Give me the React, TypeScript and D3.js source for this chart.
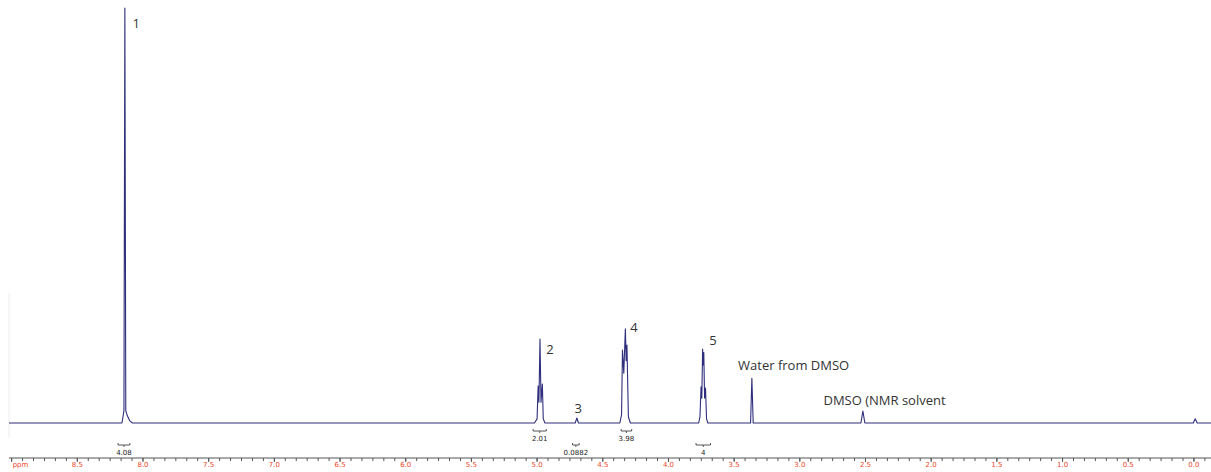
import React from "react";
import * as d3 from "d3";

const width = 1211;
const height = 472;

// trace vertices (ppm, relative intensity, peak 1 = 100)
const tracePpm = [
  9.02, 8.16, 8.145, 8.138, 8.131, 8.12, 8.1, 8.08,
  5.02, 5.0, 4.992, 4.986, 4.978, 4.97, 4.96, 4.953, 4.94,
  4.71, 4.697, 4.685,
  4.37, 4.357, 4.35, 4.34, 4.328, 4.322, 4.316, 4.305, 4.29,
  3.77, 3.76, 3.752, 3.746, 3.74, 3.736, 3.731, 3.725, 3.718, 3.71, 3.7,
  3.375, 3.365, 3.355,
  2.535, 2.52, 2.505,
  0.005, -0.01, -0.025, -0.13,
];
const traceIntensity = [
  0, 0, 3, 100, 3, 1.8, 0.5, 0,
  0, 1, 8.9, 5, 20.2, 5, 9.4, 1, 0,
  0, 1.2, 0,
  0, 2, 17.6, 12, 22.7, 15, 18.8, 1.5, 0,
  0, 1.5, 8.7, 6, 17.8, 14, 17, 6, 8.4, 1, 0,
  0, 10.8, 0,
  0, 2.9, 0,
  0, 1, 0, 0,
];

// peak labels
const labelText = ["1", "2", "3", "4", "5", "Water from DMSO", "DMSO (NMR solvent"];
const labelPpm = [8.08, 4.93, 4.715, 4.29, 3.69, 3.47, 2.82];
const labelIntensity = [95.2, 16.6, 2.4, 21.9, 18.8, 12.8, 4.3];

// integrals
const integralFrom = [8.19, 5.03, 4.73, 4.36, 3.79];
const integralTo = [8.1, 4.93, 4.68, 4.28, 3.68];
const integralValue = ["4.08", "2.01", "0.0882", "3.98", "4"];

// axis
const majorTicks = d3.range(0, 19).map((i) => 9 - i * 0.5);
const minorTicks = d3.range(0, 110).map((i) => 9 - i / 12);

const App = () => {
  const x = d3.scaleLinear().domain([9.02, -0.13]).range([9, 1211]);
  const y = d3.scaleLinear().domain([0, 100]).range([423, 8]);

  const pts: [number, number][] = tracePpm.map((p, i) => [p, traceIntensity[i]]);
  const line = d3
    .line<[number, number]>()
    .x((d) => x(d[0]))
    .y((d) => y(d[1]));

  const axisY = 458;

  return (
    <svg
      width={width}
      height={height}
      style={{ position: "absolute", left: 0, top: 0, background: "#fff" }}
    >
      <line x1={9} x2={9} y1={293} y2={437} stroke="#ececec" strokeWidth={1} />

      <path
        d={line(pts) ?? ""}
        fill="none"
        stroke="#2e2e7c"
        strokeWidth={1.1}
        strokeLinejoin="round"
      />

      {labelText.map((t, i) => (
        <text
          key={t}
          x={x(labelPpm[i])}
          y={y(labelIntensity[i])}
          fontFamily="'Open Sans', sans-serif"
          fontSize={13}
          fill="#333"
        >
          {t}
        </text>
      ))}

      {integralValue.map((v, i) => {
        const x0 = x(integralFrom[i]);
        const x1 = x(integralTo[i]);
        const cx = (x0 + x1) / 2;
        const by = i % 2 === 0 ? 445 : 431;
        return (
          <g key={v}>
            <path
              d={`M${x0},${by - 2}V${by}H${x1}V${by - 2}M${cx},${by}V${by + 2}`}
              fill="none"
              stroke="#555"
              strokeWidth={1}
            />
            <text
              x={cx}
              y={by + 10}
              textAnchor="middle"
              fontFamily="'DejaVu Sans', sans-serif"
              fontSize={7}
              fill="#222"
            >
              {v}
            </text>
          </g>
        );
      })}

      <g>
        <line x1={9} x2={1211} y1={axisY} y2={axisY} stroke="#555" strokeWidth={1} />
        {minorTicks.map((t) => (
          <line
            key={"m" + t}
            x1={x(t)}
            x2={x(t)}
            y1={axisY}
            y2={axisY + 3}
            stroke="#555"
            strokeWidth={1}
          />
        ))}
        {majorTicks.map((t) => (
          <g key={"M" + t}>
            <line x1={x(t)} x2={x(t)} y1={axisY} y2={axisY + 4} stroke="#555" strokeWidth={1} />
            <text
              x={t === 9 ? x(t) + 1 : x(t)}
              y={467}
              textAnchor={t === 9 ? "start" : "middle"}
              fontFamily="'DejaVu Sans', sans-serif"
              fontSize={7}
              fill="#f0462a"
            >
              {t === 9 ? "ppm" : t.toFixed(1)}
            </text>
          </g>
        ))}
      </g>
    </svg>
  );
};

export default App;
